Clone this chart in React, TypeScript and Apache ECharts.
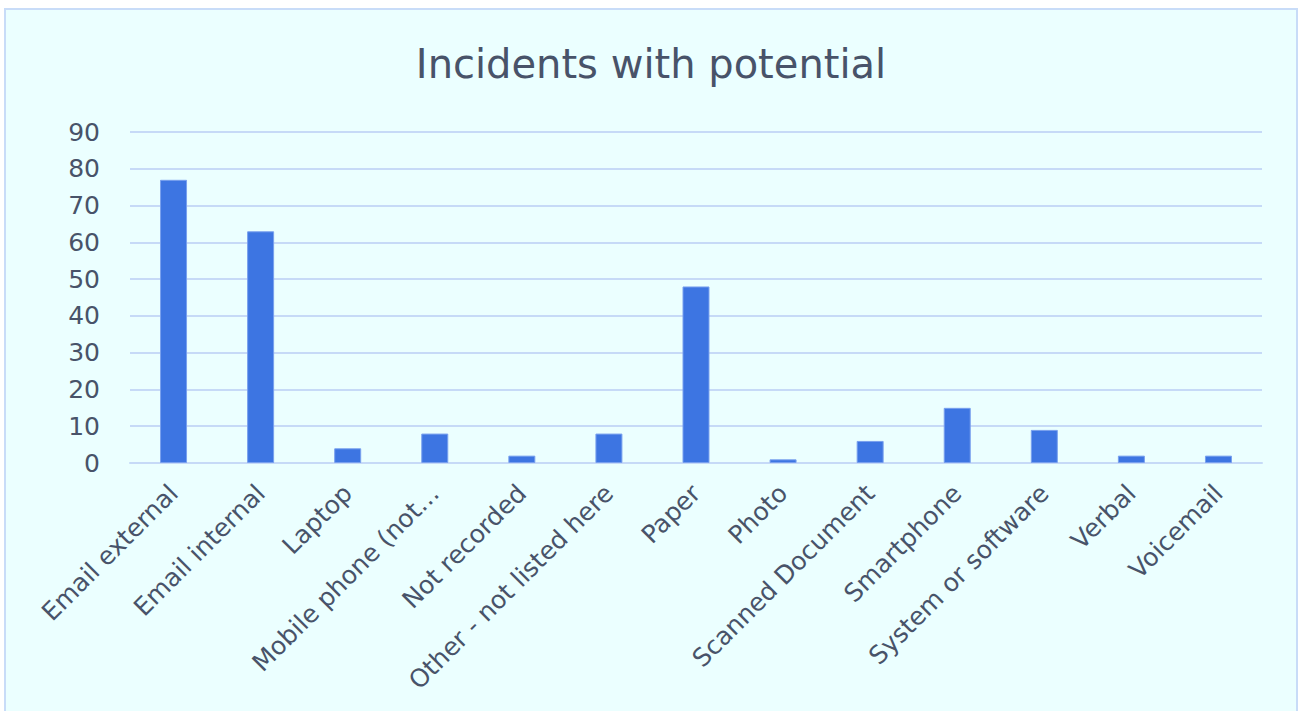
import React, { useEffect, useRef } from "react";
import * as echarts from "echarts";

const categories = [
  "Email external",
  "Email internal",
  "Laptop",
  "Mobile phone (not…",
  "Not recorded",
  "Other - not listed here",
  "Paper",
  "Photo",
  "Scanned Document",
  "Smartphone",
  "System or software",
  "Verbal",
  "Voicemail",
];
const incidents = [77, 63, 4, 8, 2, 8, 48, 1, 6, 15, 9, 2, 2];
const yTicks = [0, 10, 20, 30, 40, 50, 60, 70, 80, 90];

const TEXT = "#485369";
const GRID = "#C6DAF7";
const FONT = "'DejaVu Sans', 'Noto Sans', sans-serif";

export default function App() {
  const ref = useRef<HTMLDivElement>(null);

  useEffect(() => {
    if (!ref.current) return;
    const chart = echarts.init(ref.current, undefined, { renderer: "svg" });
    chart.setOption({
      animation: false,
      backgroundColor: "transparent",
      title: {
        text: "Incidents with potential",
        left: "center",
        top: 29,
        textStyle: { fontFamily: FONT, fontSize: 40, fontWeight: "normal", color: TEXT },
      },
      grid: { left: 124, right: 34, top: 122, bottom: 250, containLabel: false },
      xAxis: {
        type: "category",
        data: categories,
        axisLine: { show: true, lineStyle: { color: GRID, width: 2 } },
        axisTick: { show: false },
        axisLabel: {
          rotate: 45,
          interval: 0,
          margin: 26,
          fontFamily: FONT,
          fontSize: 25,
          color: TEXT,
        },
      },
      yAxis: {
        type: "value",
        min: yTicks[0],
        max: yTicks[yTicks.length - 1],
        interval: 10,
        axisLine: { show: false },
        axisTick: { show: false },
        splitLine: { show: true, lineStyle: { color: GRID, width: 2 } },
        axisLabel: { margin: 30, fontFamily: FONT, fontSize: 25, color: TEXT },
      },
      series: [
        {
          type: "bar",
          data: incidents,
          barWidth: "31%",
          itemStyle: { color: "#3D75E2", borderColor: "#79A0EE", borderWidth: 1 },
        },
      ],
    });
    return () => chart.dispose();
  }, []);

  return (
    <div
      style={{
        position: "fixed",
        left: 0,
        top: 0,
        width: 1301,
        height: 711,
        background: "#ffffff",
        overflow: "hidden",
      }}
    >
      <div
        style={{
          position: "absolute",
          left: 4,
          top: 8,
          width: 1294,
          height: 720,
          background: "#EBFFFF",
          border: "2px solid #C8DCF8",
          boxSizing: "border-box",
        }}
      >
        <div ref={ref} style={{ width: 1290, height: 703 }} />
      </div>
    </div>
  );
}
